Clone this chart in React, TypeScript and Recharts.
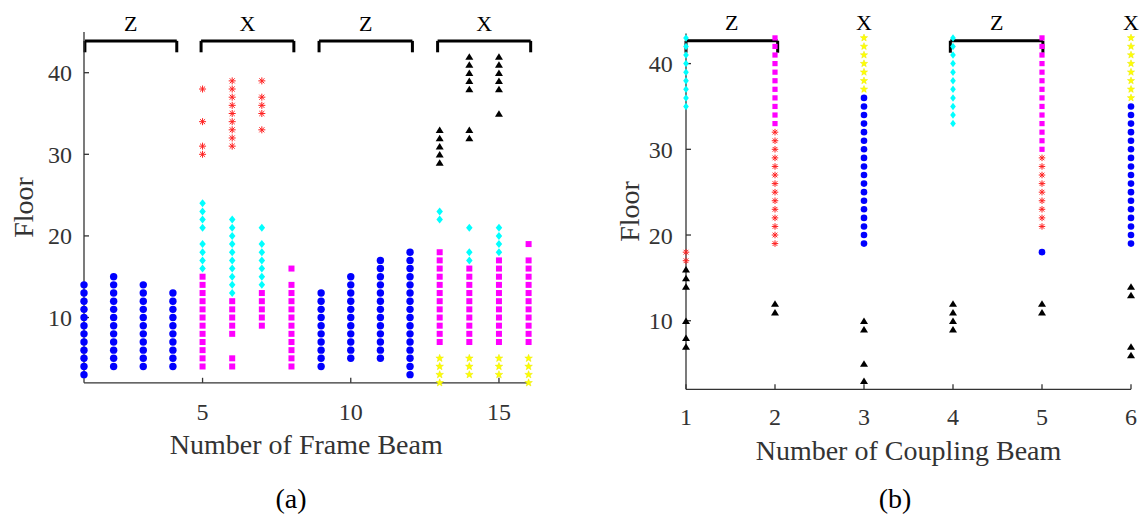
import { ScatterChart, Scatter, XAxis, YAxis, ReferenceLine, ReferenceDot } from "recharts";

const FONT = '"Liberation Serif", "Times New Roman", serif';
const AXIS_GRAY = "#333333";

// ============================================
// (a) Frame beams: [beam number, floors]
// ============================================
const frameCircle: [number, number[]][] = [
  [1, [3, 4, 5, 6, 7, 8, 9, 10, 11, 12, 13, 14]],
  [2, [4, 5, 6, 7, 8, 9, 10, 11, 12, 13, 14, 15]],
  [3, [4, 5, 6, 7, 8, 9, 10, 11, 12, 13, 14]],
  [4, [4, 5, 6, 7, 8, 9, 10, 11, 12, 13]],
  [9, [4, 5, 6, 7, 8, 9, 10, 11, 12, 13]],
  [10, [5, 6, 7, 8, 9, 10, 11, 12, 13, 14, 15]],
  [11, [5, 6, 7, 8, 9, 10, 11, 12, 13, 14, 15, 16, 17]],
  [12, [3, 4, 5, 6, 7, 8, 9, 10, 11, 12, 13, 14, 15, 16, 17, 18]],
];
const frameSquare: [number, number[]][] = [
  [5, [4, 5, 6, 7, 8, 9, 10, 11, 12, 13, 14, 15]],
  [6, [4, 5, 8, 9, 10, 11, 12]],
  [7, [9, 10, 11, 12, 13]],
  [8, [4, 5, 6, 7, 8, 9, 10, 11, 12, 13, 14, 16]],
  [13, [7, 8, 9, 10, 11, 12, 13, 14, 15, 16, 17, 18]],
  [14, [7, 8, 9, 10, 11, 12, 13, 14, 15, 16]],
  [15, [7, 8, 9, 10, 11, 12, 13, 14, 15, 16, 17]],
  [16, [7, 8, 9, 10, 11, 12, 13, 14, 15, 16, 17, 19]],
];
const frameDiamond: [number, number[]][] = [
  [5, [16, 17, 18, 19, 21, 22, 23, 24]],
  [6, [13, 14, 15, 16, 17, 18, 19, 20, 21, 22]],
  [7, [14, 15, 16, 17, 18, 19, 21]],
  [13, [22, 23]],
  [14, [17, 18, 21]],
  [15, [18, 19, 20, 21]],
];
const frameAsterisk: [number, number[]][] = [
  [5, [30, 31, 34, 38]],
  [6, [31, 32, 33, 34, 35, 36, 37, 38, 39]],
  [7, [33, 35, 36, 37, 39]],
];
const frameTriangle: [number, number[]][] = [
  [13, [29, 30, 31, 32, 33]],
  [14, [32, 33, 38, 39, 40, 41, 42]],
  [15, [35, 38, 39, 40, 41, 42]],
];
const frameStar: [number, number[]][] = [
  [13, [2, 3, 4, 5]],
  [14, [3, 4, 5]],
  [15, [3, 4, 5]],
  [16, [2, 3, 4, 5]],
];
const frameGroups = [
  { label: "Z", from: 1.03, to: 4.13 },
  { label: "X", from: 4.95, to: 8.08 },
  { label: "Z", from: 8.93, to: 12.08 },
  { label: "X", from: 12.93, to: 16.07 },
];
const frameXTicks = [5, 10, 15];

// ============================================
// (b) Coupling beams: [beam number, floors]
// ============================================
const coupCircle: [number, number[]][] = [
  [3, [19, 20, 21, 22, 23, 24, 25, 26, 27, 28, 29, 30, 31, 32, 33, 34, 35, 36]],
  [5, [18]],
  [6, [19, 20, 21, 22, 23, 24, 25, 26, 27, 28, 29, 30, 31, 32, 33, 34, 35]],
];
const coupSquare: [number, number[]][] = [
  [2, [33, 34, 35, 36, 37, 38, 39, 40, 41, 42, 43]],
  [5, [30, 31, 32, 33, 34, 35, 36, 37, 38, 39, 40, 41, 42, 43]],
];
const coupDiamond: [number, number[]][] = [
  [1, [35, 36, 37, 38, 39, 40, 41, 42, 43]],
  [4, [33, 34, 35, 36, 37, 38, 39, 40, 41, 42, 43]],
];
const coupAsterisk: [number, number[]][] = [
  [1, [17, 18]],
  [2, [19, 20, 21, 22, 23, 24, 25, 26, 27, 28, 29, 30, 31, 32]],
  [5, [21, 22, 23, 24, 25, 26, 27, 28, 29]],
];
const coupTriangle: [number, number[]][] = [
  [1, [7, 8, 10, 14, 15, 16]],
  [2, [11, 12]],
  [3, [3, 5, 9, 10]],
  [4, [9, 10, 11, 12]],
  [5, [11, 12]],
  [6, [6, 7, 13, 14]],
];
const coupStar: [number, number[]][] = [
  [3, [37, 38, 39, 40, 41, 42, 43]],
  [6, [36, 37, 38, 39, 40, 41, 42, 43]],
];
const coupGroups = [
  { label: "Z", from: 1, to: 2.03, bracket: true },
  { label: "X", from: 3, to: 3, bracket: false },
  { label: "Z", from: 3.97, to: 5.01, bracket: true },
  { label: "X", from: 6, to: 6, bracket: false },
];
const coupXTicks = [1, 2, 3, 4, 5, 6];
const floorTicks = [10, 20, 30, 40];

const toPoints = (cols: [number, number[]][]) =>
  cols.flatMap(([x, floors]) => floors.map((y) => ({ x, y })));

// ============================================
// Marker shapes (MATLAB-like)
// ============================================
const circleShape = (r: number) => (p: any) =>
  <circle cx={p.cx} cy={p.cy} r={r} fill="#0000ff" />;

const squareShape = (s: number) => (p: any) =>
  <rect x={p.cx - s / 2} y={p.cy - s / 2} width={s} height={s} fill="#ff00ff" />;

const diamondShape = (w: number, h: number) => (p: any) => (
  <polygon
    points={`${p.cx},${p.cy - h / 2} ${p.cx + w / 2},${p.cy} ${p.cx},${p.cy + h / 2} ${p.cx - w / 2},${p.cy}`}
    fill="#00ffff"
  />
);

const triangleShape = (w: number, h: number) => (p: any) => (
  <polygon
    points={`${p.cx},${p.cy - h / 2} ${p.cx + w / 2},${p.cy + h / 2} ${p.cx - w / 2},${p.cy + h / 2}`}
    fill="#000000"
  />
);

const asteriskShape = (s: number) => (p: any) => {
  const h = s / 2;
  const d = h * 0.72;
  const { cx, cy } = p;
  return (
    <g stroke="#ff2020" strokeWidth={1}>
      <line x1={cx - h} y1={cy} x2={cx + h} y2={cy} />
      <line x1={cx} y1={cy - h} x2={cx} y2={cy + h} />
      <line x1={cx - d} y1={cy - d} x2={cx + d} y2={cy + d} />
      <line x1={cx - d} y1={cy + d} x2={cx + d} y2={cy - d} />
    </g>
  );
};

const starShape = (r: number) => (p: any) => {
  const pts: string[] = [];
  for (let i = 0; i < 10; i++) {
    const rad = i % 2 === 0 ? r : r * 0.42;
    const a = -Math.PI / 2 + (i * Math.PI) / 5;
    pts.push(`${p.cx + rad * Math.cos(a)},${p.cy + rad * Math.sin(a)}`);
  }
  return <polygon points={pts.join(" ")} fill="#ffff00" stroke="#e8e800" strokeWidth={0.5} />;
};

const tickStyle = { fill: AXIS_GRAY, fontSize: 24, fontFamily: FONT };
const axisLineStyle = { stroke: AXIS_GRAY, strokeWidth: 1.3 };
const groupLabel = (value: string, offset: number) => ({
  value,
  position: "top" as const,
  offset,
  fill: "#000",
  fontSize: 22,
  fontFamily: FONT,
});

// axis boxes: y axis 60 wide, x axis 30 tall (plot edges set by margins)
const Y_W = 60;
const X_H = 30;

// ============================================
// Panel (a)
// ============================================
function FramePanel() {
  const top = 43.9;
  const low = 42.5;
  return (
    <ScatterChart
      width={572}
      height={517}
      margin={{ top: 31.9, right: 43.4, bottom: 134.2 - X_H, left: 84 - Y_W }}
    >
      <XAxis
        type="number"
        dataKey="x"
        domain={[1, 16]}
        ticks={frameXTicks}
        height={X_H}
        tickSize={-5}
        tickMargin={25}
        tick={tickStyle}
        axisLine={axisLineStyle}
        tickLine={axisLineStyle}
      />
      <YAxis
        type="number"
        dataKey="y"
        domain={[2, 45]}
        ticks={floorTicks}
        width={Y_W}
        tickSize={-5}
        tickMargin={17}
        tick={tickStyle}
        axisLine={axisLineStyle}
        tickLine={axisLineStyle}
      />
      <Scatter data={toPoints(frameCircle)} shape={circleShape(3.7)} isAnimationActive={false} />
      <Scatter data={toPoints(frameSquare)} shape={squareShape(6)} isAnimationActive={false} />
      <Scatter data={toPoints(frameDiamond)} shape={diamondShape(6.5, 8)} isAnimationActive={false} />
      <Scatter data={toPoints(frameAsterisk)} shape={asteriskShape(7)} isAnimationActive={false} />
      <Scatter data={toPoints(frameTriangle)} shape={triangleShape(8, 6.5)} isAnimationActive={false} />
      <Scatter data={toPoints(frameStar)} shape={starShape(4)} isAnimationActive={false} />

      {frameGroups.map((g, i) => (
        <ReferenceLine
          key={`ha-${i}`}
          segment={[{ x: g.from, y: top }, { x: g.to, y: top }]}
          stroke="#000"
          strokeWidth={3}
          ifOverflow="visible"
        />
      ))}
      {frameGroups.map((g, i) => (
        <ReferenceLine
          key={`la-${i}`}
          segment={[{ x: g.from, y: top }, { x: g.from, y: low }]}
          stroke="#000"
          strokeWidth={3}
          ifOverflow="visible"
        />
      ))}
      {frameGroups.map((g, i) => (
        <ReferenceLine
          key={`ra-${i}`}
          segment={[{ x: g.to, y: top }, { x: g.to, y: low }]}
          stroke="#000"
          strokeWidth={3}
          ifOverflow="visible"
        />
      ))}
      {frameGroups.map((g, i) => (
        <ReferenceDot
          key={`ta-${i}`}
          x={(g.from + g.to) / 2}
          y={top}
          r={0.01}
          fill="none"
          stroke="none"
          ifOverflow="visible"
          label={groupLabel(g.label, 10)}
        />
      ))}
    </ScatterChart>
  );
}

// ============================================
// Panel (b)
// ============================================
function CouplingPanel() {
  const top = 42.67;
  const low = 41.27;
  const brackets = coupGroups.filter((g) => g.bracket);
  return (
    <ScatterChart
      width={572}
      height={517}
      margin={{ top: 33.6, right: 13, bottom: 127.7 - X_H, left: 114 - Y_W }}
    >
      <XAxis
        type="number"
        dataKey="x"
        domain={[1, 6]}
        ticks={coupXTicks}
        height={X_H}
        tickSize={-5}
        tickMargin={23.5}
        tick={tickStyle}
        axisLine={axisLineStyle}
        tickLine={axisLineStyle}
      />
      <YAxis
        type="number"
        dataKey="y"
        domain={[2, 43.5]}
        ticks={floorTicks}
        width={Y_W}
        tickSize={-5}
        tickMargin={18.3}
        tick={tickStyle}
        axisLine={axisLineStyle}
        tickLine={axisLineStyle}
      />
      <Scatter data={toPoints(coupCircle)} shape={circleShape(3.3)} isAnimationActive={false} />
      <Scatter data={toPoints(coupSquare)} shape={squareShape(5.2)} isAnimationActive={false} />
      <Scatter data={toPoints(coupDiamond)} shape={diamondShape(5.6, 7.5)} isAnimationActive={false} />
      <Scatter data={toPoints(coupAsterisk)} shape={asteriskShape(6.5)} isAnimationActive={false} />
      <Scatter data={toPoints(coupTriangle)} shape={triangleShape(8, 6.5)} isAnimationActive={false} />
      <Scatter data={toPoints(coupStar)} shape={starShape(3.8)} isAnimationActive={false} />

      {brackets.map((g, i) => (
        <ReferenceLine
          key={`hb-${i}`}
          segment={[{ x: g.from, y: top }, { x: g.to, y: top }]}
          stroke="#000"
          strokeWidth={3}
          ifOverflow="visible"
        />
      ))}
      {brackets.map((g, i) => (
        <ReferenceLine
          key={`lb-${i}`}
          segment={[{ x: g.from, y: top }, { x: g.from, y: low }]}
          stroke="#000"
          strokeWidth={3}
          ifOverflow="visible"
        />
      ))}
      {brackets.map((g, i) => (
        <ReferenceLine
          key={`rb-${i}`}
          segment={[{ x: g.to, y: top }, { x: g.to, y: low }]}
          stroke="#000"
          strokeWidth={3}
          ifOverflow="visible"
        />
      ))}
      {coupGroups.map((g, i) => (
        <ReferenceDot
          key={`tb-${i}`}
          x={(g.from + g.to) / 2}
          y={top}
          r={0.01}
          fill="none"
          stroke="none"
          ifOverflow="visible"
          label={groupLabel(g.label, 11)}
        />
      ))}
    </ScatterChart>
  );
}

export default function App() {
  return (
    <div
      style={{
        position: "absolute",
        left: 0,
        top: 0,
        width: 1144,
        height: 517,
        background: "#fff",
        overflow: "hidden",
      }}
    >
      <div style={{ position: "absolute", left: 0, top: 0 }}>
        <FramePanel />
      </div>
      <div style={{ position: "absolute", left: 572, top: 0 }}>
        <CouplingPanel />
      </div>

      {/* Axis titles and panel captions */}
      <svg
        width={1144}
        height={517}
        style={{ position: "absolute", left: 0, top: 0, pointerEvents: "none" }}
        fontFamily={FONT}
      >
        <text x={33} y={207.4} fontSize={28} fill={AXIS_GRAY} textAnchor="middle" transform="rotate(-90, 33, 207.4)">
          Floor
        </text>
        <text x={306.3} y={454} fontSize={28} fill={AXIS_GRAY} textAnchor="middle">
          Number of Frame Beam
        </text>
        <text x={291} y={508} fontSize={28} fill="#000" textAnchor="middle">
          (a)
        </text>

        <text x={639} y={211.5} fontSize={28} fill={AXIS_GRAY} textAnchor="middle" transform="rotate(-90, 639, 211.5)">
          Floor
        </text>
        <text x={908.5} y={460} fontSize={28} fill={AXIS_GRAY} textAnchor="middle">
          Number of Coupling Beam
        </text>
        <text x={895} y={508} fontSize={28} fill="#000" textAnchor="middle">
          (b)
        </text>
      </svg>
    </div>
  );
}
